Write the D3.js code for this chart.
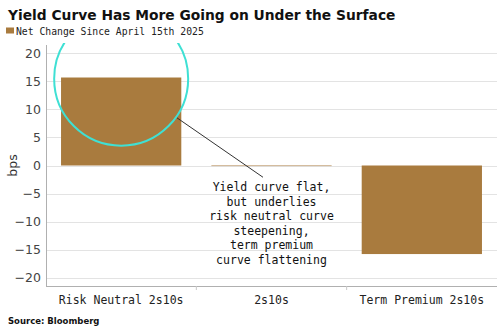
<!DOCTYPE html>
<html><head><meta charset="utf-8">
<script src="https://cdn.jsdelivr.net/npm/d3@7"></script>
<style>body{margin:0;background:#fff}svg{display:block}</style>
</head><body>
<svg id="c" width="500" height="334"></svg>
<script>
const categories = ["Risk Neutral 2s10s", "2s10s", "Term Premium 2s10s"];
const values = [15.7, -0.1, -15.8];
const yTicks = [-20, -15, -10, -5, 0, 5, 10, 15, 20];
const title = "Yield Curve Has More Going on Under the Surface";
const legendLabel = "Net Change Since April 15th 2025";
const yLabel = "bps";
const source = "Source: Bloomberg";
const noteLines = ["Yield curve flat,", "but underlies", "risk neutral curve", "steepening,", "term premium", "curve flattening"];

const svg = d3.select("#c");
const M = {left: 46, right: 497, top: 45, bottom: 286};
const x = d3.scaleBand().domain(categories).range([M.left, M.right]).paddingInner(0.2).paddingOuter(0.1);
const y = d3.scaleLinear().domain([-21.5, 21.5]).range([M.bottom, M.top]);
const mono = "'DejaVu Sans Mono','Liberation Mono',monospace";
const barColor = "#a97b3e";

function fitText(sel, w){ const n=sel.node(); const l=n.getComputedTextLength(); const fs=parseFloat(sel.attr("font-size")); sel.attr("font-size", fs*w/l); }

// title
const t = svg.append("text").attr("x", 8).attr("y", 20).attr("font-family","'DejaVu Sans',Verdana,sans-serif")
  .attr("font-weight","bold").attr("font-size",15).attr("fill","#111").text(title);
fitText(t, 388);

// legend
svg.append("rect").attr("x",6).attr("y",27.5).attr("width",8).attr("height",6).attr("fill",barColor);
const lg = svg.append("text").attr("x",16).attr("y",34.5).attr("font-family",mono).attr("font-size",10).attr("fill","#222").text(legendLabel);
fitText(lg, 188);

// gridlines
svg.append("g").selectAll("line").data(yTicks).join("line")
  .attr("x1", M.left).attr("x2", M.right).attr("y1", d=>Math.round(y(d))+0.5).attr("y2", d=>Math.round(y(d))+0.5)
  .attr("stroke","#e3e3e3").attr("stroke-width",1);

// y axis
const ya = svg.append("g").attr("transform",`translate(${M.left},0)`)
  .call(d3.axisLeft(y).tickValues(yTicks).tickSize(0).tickPadding(5));
ya.select(".domain").attr("stroke","#b0b0b0").attr("d", `M0.5,${M.top}V${M.bottom}`);
ya.selectAll("text").attr("font-family","'DejaVu Sans',Verdana,sans-serif").attr("font-size",12.5).attr("fill","#444");

svg.append("text").attr("transform",`translate(17,${y(0)}) rotate(-90)`).attr("text-anchor","middle")
  .attr("font-family","'DejaVu Sans',Verdana,sans-serif").attr("font-size",12.5).attr("fill","#333").text(yLabel);

// bars
svg.append("g").selectAll("rect").data(values).join("rect")
  .attr("x",(d,i)=>x(categories[i])).attr("width",x.bandwidth())
  .attr("y",d=>y(Math.max(0,d))).attr("height",d=>Math.abs(y(d)-y(0)))
  .attr("fill",barColor);

// x axis
const xa = svg.append("g").attr("transform",`translate(0,${M.bottom})`)
  .call(d3.axisBottom(x).tickSize(0).tickPadding(10));
xa.select(".domain").attr("stroke","#b0b0b0").attr("d",`M${M.left},0.5H${M.right}`);
xa.selectAll("text").attr("font-family",mono).attr("font-size",11.5).attr("fill","#222");
const step = (M.right - M.left)/3;
xa.append("g").selectAll("line").data([1,2]).join("line")
  .attr("x1",d=>M.left+d*step).attr("x2",d=>M.left+d*step).attr("y1",0).attr("y2",4).attr("stroke","#c8c8c8");

// highlight circle (clipped to plot)
svg.append("clipPath").attr("id","pc").append("rect").attr("x",M.left).attr("y",M.top-2).attr("width",M.right-M.left).attr("height",M.bottom-M.top);
const bx = x(categories[0]) + x.bandwidth()/2;
svg.append("circle").attr("clip-path","url(#pc)").attr("cx",bx).attr("cy",y(15.5)).attr("r",67)
  .attr("fill","none").attr("stroke","#3fe0d4").attr("stroke-width",2);

// annotation
svg.append("line").attr("x1",177).attr("y1",y(8.5)).attr("x2",263).attr("y2",y(-2.1))
  .attr("stroke","#333").attr("stroke-width",1);
const nx = x(categories[1]) + x.bandwidth()/2;
svg.append("g").selectAll("text").data(noteLines).join("text")
  .attr("x", nx).attr("y",(d,i)=>191 + i*14.6).attr("text-anchor","middle")
  .attr("font-family",mono).attr("font-size",11.5).attr("fill","#111").text(d=>d);

// source
svg.append("text").attr("x",8).attr("y",324).attr("font-family","'DejaVu Sans',Verdana,sans-serif")
  .attr("font-weight","bold").attr("font-size",8.5).attr("fill","#111").text(source);
</script>
</body></html>
